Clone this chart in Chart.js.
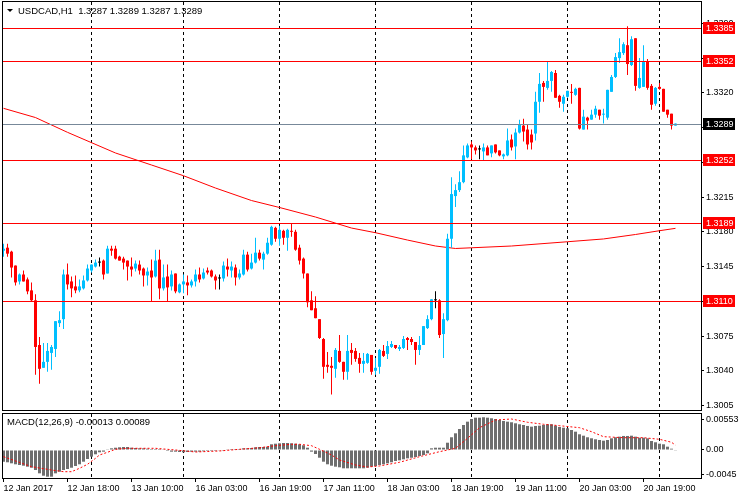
<!DOCTYPE html>
<html>
<head>
<meta charset="utf-8">
<script src="https://cdn.jsdelivr.net/npm/chart.js@4.4.1/dist/chart.umd.min.js"></script>
<style>
  html, body { margin: 0; padding: 0; background: #fff; }
  #wrap { position: relative; width: 740px; height: 500px; overflow: hidden; background: #fff; }
  canvas { position: absolute; left: 0; }
  #main { top: 0; }
  #macd { top: 412px; }
</style>
</head>
<body>
<div id="wrap">
  <canvas id="main" width="740" height="412"></canvas>
  <canvas id="macd" width="740" height="88"></canvas>
</div>
<script>
"use strict";

// USDCAD H1 candles, one per hour
const openP = [
  1.3161,1.3164,1.3160,1.3146,1.3130,1.3137,1.3132,1.3121,1.3111,1.3066,
  1.3043,1.3049,1.3058,1.3062,1.3088,1.3092,1.3137,1.3130,1.3125,1.3121,
  1.3123,1.3131,1.3141,1.3145,1.3149,1.3151,1.3138,1.3163,1.3163,1.3155,
  1.3153,1.3151,1.3145,1.3143,1.3147,1.3143,1.3136,1.3141,1.3135,1.3152,
  1.3123,1.3135,1.3125,1.3138,1.3119,1.3127,1.3129,1.3126,1.3130,1.3137,
  1.3133,1.3141,1.3141,1.3135,1.3133,1.3133,1.3145,1.3141,1.3144,1.3134,
  1.3137,1.3157,1.3143,1.3149,1.3159,1.3152,1.3158,1.3167,1.3184,1.3173,
  1.3181,1.3174,1.3181,1.3180,1.3164,1.3153,1.3138,1.3111,1.3103,1.3092,
  1.3072,1.3046,1.3045,1.3042,1.3060,1.3049,1.3039,1.3061,1.3060,1.3053,
  1.3047,1.3048,1.3056,1.3040,1.3044,1.3060,1.3057,1.3064,1.3066,1.3062,
  1.3063,1.3073,1.3072,1.3069,1.3061,1.3066,1.3083,1.3092,1.3111,1.3111,
  1.3077,1.3091,1.3173,1.3216,1.3222,1.3230,1.3255,1.3268,1.3265,1.3263,
  1.3261,1.3265,1.3259,1.3268,1.3262,1.3256,1.3257,1.3273,1.3266,1.3280,
  1.3287,1.3283,1.3278,1.3279,1.3311,1.3330,1.3325,1.3332,1.3340,1.3317,
  1.3309,1.3316,1.3321,1.3318,1.3325,1.3283,1.3295,1.3293,1.3298,1.3303,
  1.3298,1.3295,1.3321,1.3336,1.3355,1.3360,1.3368,1.3348,1.3375,1.3325,
  1.3326,1.3352,1.3327,1.3309,1.3326,1.3324,1.3303,1.3299,1.3287
];
const highP = [
  1.3168,1.3168,1.3161,1.3146,1.3138,1.3141,1.3134,1.3129,1.3117,1.3074,
  1.3068,1.3068,1.3066,1.3090,1.3100,1.3142,1.3148,1.3135,1.3136,1.3132,
  1.3136,1.3147,1.3147,1.3152,1.3154,1.3152,1.3166,1.3166,1.3166,1.3156,
  1.3155,1.3151,1.3154,1.3151,1.3151,1.3144,1.3144,1.3152,1.3162,1.3162,
  1.3147,1.3147,1.3141,1.3138,1.3128,1.3137,1.3136,1.3132,1.3142,1.3144,
  1.3143,1.3144,1.3142,1.3137,1.3137,1.3150,1.3153,1.3150,1.3147,1.3142,
  1.3162,1.3160,1.3158,1.3174,1.3162,1.3160,1.3174,1.3186,1.3185,1.3186,
  1.3182,1.3183,1.3189,1.3182,1.3167,1.3154,1.3138,1.3120,1.3115,1.3092,
  1.3073,1.3059,1.3054,1.3063,1.3076,1.3049,1.3076,1.3068,1.3063,1.3058,
  1.3058,1.3058,1.3056,1.3053,1.3062,1.3066,1.3070,1.3070,1.3066,1.3066,
  1.3075,1.3074,1.3074,1.3069,1.3075,1.3085,1.3096,1.3112,1.3120,1.3112,
  1.3098,1.3178,1.3235,1.3228,1.3241,1.3267,1.3269,1.3271,1.3267,1.3267,
  1.3269,1.3267,1.3267,1.3268,1.3262,1.3259,1.3284,1.3278,1.3284,1.3293,
  1.3294,1.3288,1.3283,1.3321,1.3340,1.3332,1.3351,1.3342,1.3343,1.3318,
  1.3318,1.3322,1.3329,1.3325,1.3325,1.3303,1.3296,1.3303,1.3307,1.3303,
  1.3304,1.3323,1.3338,1.3360,1.3375,1.3371,1.3387,1.3377,1.3375,1.3355,
  1.3368,1.3354,1.3329,1.3326,1.3330,1.3324,1.3303,1.3299,1.3289
];
const lowP = [
  1.3155,1.3155,1.3134,1.3126,1.3127,1.3130,1.3117,1.3110,1.3036,1.3027,
  1.3043,1.3039,1.3041,1.3054,1.3084,1.3082,1.3122,1.3114,1.3118,1.3119,
  1.3122,1.3130,1.3139,1.3144,1.3145,1.3132,1.3138,1.3156,1.3152,1.3151,
  1.3142,1.3131,1.3135,1.3140,1.3137,1.3125,1.3126,1.3110,1.3134,1.3112,
  1.3121,1.3110,1.3121,1.3118,1.3118,1.3118,1.3116,1.3124,1.3125,1.3129,
  1.3132,1.3137,1.3134,1.3122,1.3122,1.3130,1.3135,1.3134,1.3126,1.3132,
  1.3136,1.3140,1.3142,1.3148,1.3151,1.3142,1.3157,1.3166,1.3170,1.3166,
  1.3167,1.3161,1.3175,1.3161,1.3147,1.3133,1.3104,1.3101,1.3093,1.3072,
  1.3032,1.3038,1.3016,1.3033,1.3048,1.3031,1.3031,1.3046,1.3049,1.3038,
  1.3038,1.3047,1.3036,1.3036,1.3037,1.3054,1.3052,1.3063,1.3062,1.3060,
  1.3062,1.3061,1.3066,1.3046,1.3056,1.3066,1.3082,1.3091,1.3103,1.3073,
  1.3053,1.3090,1.3164,1.3205,1.3220,1.3229,1.3254,1.3253,1.3258,1.3253,
  1.3252,1.3257,1.3255,1.3259,1.3256,1.3253,1.3256,1.3262,1.3253,1.3279,
  1.3271,1.3263,1.3263,1.3272,1.3300,1.3311,1.3323,1.3321,1.3315,1.3305,
  1.3301,1.3315,1.3309,1.3317,1.3283,1.3283,1.3283,1.3293,1.3295,1.3293,
  1.3289,1.3293,1.3321,1.3335,1.3350,1.3358,1.3338,1.3347,1.3322,1.3324,
  1.3326,1.3323,1.3303,1.3307,1.3323,1.3301,1.3295,1.3283,1.3287
];
const closeP = [
  1.3163,1.3158,1.3144,1.3129,1.3137,1.3130,1.3120,1.3111,1.3064,1.3042,
  1.3049,1.3060,1.3064,1.3090,1.3091,1.3137,1.3127,1.3123,1.3121,1.3125,
  1.3131,1.3143,1.3147,1.3149,1.3149,1.3137,1.3163,1.3161,1.3153,1.3151,
  1.3149,1.3145,1.3142,1.3148,1.3141,1.3136,1.3140,1.3134,1.3151,1.3123,
  1.3134,1.3124,1.3137,1.3120,1.3127,1.3130,1.3126,1.3130,1.3137,1.3132,
  1.3139,1.3139,1.3135,1.3131,1.3133,1.3146,1.3142,1.3145,1.3134,1.3138,
  1.3157,1.3142,1.3149,1.3159,1.3153,1.3158,1.3169,1.3185,1.3173,1.3182,
  1.3174,1.3182,1.3180,1.3162,1.3151,1.3138,1.3109,1.3101,1.3093,1.3073,
  1.3044,1.3044,1.3043,1.3061,1.3049,1.3039,1.3060,1.3058,1.3052,1.3047,
  1.3050,1.3057,1.3039,1.3043,1.3061,1.3055,1.3065,1.3067,1.3063,1.3064,
  1.3072,1.3071,1.3069,1.3061,1.3066,1.3085,1.3092,1.3112,1.3111,1.3076,
  1.3092,1.3173,1.3218,1.3222,1.3230,1.3257,1.3267,1.3265,1.3262,1.3263,
  1.3265,1.3257,1.3267,1.3260,1.3257,1.3258,1.3272,1.3265,1.3280,1.3288,
  1.3281,1.3268,1.3270,1.3311,1.3329,1.3326,1.3332,1.3341,1.3315,1.3311,
  1.3316,1.3322,1.3320,1.3324,1.3284,1.3296,1.3292,1.3298,1.3304,1.3297,
  1.3299,1.3323,1.3336,1.3356,1.3361,1.3369,1.3349,1.3374,1.3327,1.3335,
  1.3351,1.3325,1.3308,1.3325,1.3324,1.3301,1.3298,1.3287,1.3289
];

// moving average, read at a few bars
const maIdx = [0, 8, 16, 22, 28, 37, 45, 53, 62, 69, 78, 87, 93, 101, 108, 113, 117, 127, 141, 150, 158, 164, 168];
const maVal = [1.33044, 1.32951, 1.32802, 1.32698, 1.32594, 1.32473, 1.32365, 1.32241, 1.32115, 1.32045, 1.31949, 1.31838,
  1.31791, 1.31717, 1.31657, 1.31632, 1.31639, 1.31657, 1.31700, 1.31728, 1.31773, 1.31811, 1.31835];

// MACD main (histogram), one per bar
const macdHist = [
  -0.00215,-0.00226,-0.00245,-0.00263,-0.00276,-0.00289,-0.00307,-0.00326,-0.00368,-0.00429,
  -0.00473,-0.00491,-0.00491,-0.00429,-0.00399,-0.00368,-0.00350,-0.00326,-0.00294,-0.00263,
  -0.00215,-0.00166,-0.00123,-0.00079,-0.00042,-0.00031,0.00005,0.00031,0.00042,0.00050,
  0.00055,0.00055,0.00042,0.00037,0.00031,0.00031,0.00024,0.00018,0.00018,0.00018,
  0.00013,-0.00018,-0.00031,-0.00031,-0.00037,-0.00042,-0.00037,-0.00031,-0.00031,-0.00031,
  -0.00024,-0.00018,-0.00018,-0.00018,-0.00013,-0.00002,0.00013,0.00018,0.00018,0.00018,
  0.00031,0.00031,0.00037,0.00050,0.00055,0.00055,0.00061,0.00105,0.00116,0.00123,
  0.00129,0.00129,0.00123,0.00116,0.00105,0.00086,0.00042,-0.00031,-0.00074,-0.00142,
  -0.00215,-0.00263,-0.00289,-0.00307,-0.00318,-0.00337,-0.00337,-0.00337,-0.00337,-0.00337,
  -0.00337,-0.00326,-0.00307,-0.00294,-0.00276,-0.00263,-0.00245,-0.00226,-0.00202,-0.00190,
  -0.00171,-0.00153,-0.00142,-0.00129,-0.00110,-0.00092,-0.00061,0.00031,0.00042,0.00042,
  0.00042,0.00134,0.00234,0.00307,0.00386,0.00460,0.00521,0.00570,0.00594,0.00594,
  0.00602,0.00594,0.00583,0.00570,0.00552,0.00534,0.00521,0.00510,0.00491,0.00473,
  0.00460,0.00442,0.00429,0.00442,0.00447,0.00460,0.00473,0.00473,0.00447,0.00423,
  0.00410,0.00399,0.00368,0.00337,0.00289,0.00263,0.00234,0.00215,0.00197,0.00184,
  0.00171,0.00184,0.00215,0.00234,0.00245,0.00258,0.00258,0.00263,0.00245,0.00226,
  0.00226,0.00215,0.00166,0.00142,0.00116,0.00105,0.00061,0.00024,-0.00013
];

// MACD signal, read at a few bars
const sigIdx = [0, 7, 12, 15, 17, 19, 21, 23, 24, 26, 28, 31, 38, 43, 48, 54, 59, 64, 68, 72, 74, 77, 79, 82, 84, 88, 91, 94,
  99, 104, 109, 113, 116, 119, 123, 127, 131, 135, 139, 144, 147, 150, 155, 160, 164, 167, 168];
const sigVal = [-0.00123, -0.00307, -0.00368, -0.00399, -0.00399, -0.00337, -0.00263, -0.00153, -0.00092, -0.00042,
  0.00013, 0.00031, 0.00031, 0, -0.00037, -0.00018, 0.00013, 0.00042, 0.00079, 0.00105,
  0.00105, 0.00079, 0.00013, -0.00092, -0.00184, -0.00276, -0.00313, -0.00294, -0.00226, -0.00123,
  -0.00031, 0.00031, 0.00215, 0.00410, 0.00552, 0.00570, 0.00510, 0.00473, 0.00447, 0.00410,
  0.00337, 0.00245, 0.00226, 0.00226, 0.00197, 0.00142, 0.00089];

const levels = [1.3385, 1.3352, 1.3252, 1.3189, 1.3110];
const bidPrice = 1.3289;
const priceTicks = [1.3390, 1.3355, 1.3320, 1.3285, 1.3250, 1.3215, 1.3180, 1.3145, 1.3110, 1.3075, 1.3040, 1.3005];
const macdTicks = [0.00553, 0, -0.0045];
const macdTickLabels = ['0.00553', '0.00', '-0.0045'];
const dayLines = [22, 45, 69, 93, 117, 141, 164];
const timeIdx = [0, 16, 32, 48, 64, 80, 96, 112, 128, 144, 160];
const timeLabels = ['12 Jan 2017', '12 Jan 18:00', '13 Jan 10:00', '16 Jan 03:00', '16 Jan 19:00', '17 Jan 11:00',
  '18 Jan 03:00', '18 Jan 19:00', '19 Jan 11:00', '20 Jan 03:00', '20 Jan 19:00'];
const titleText = 'USDCAD,H1  1.3287 1.3289 1.3287 1.3289';
const macdText = 'MACD(12,26,9) -0.00013 0.00089';

const BULL = '#00BFFF';
const BEAR = '#FF0000';
const FONT = "'Liberation Sans', Arial, sans-serif";

Chart.defaults.animation = false;
Chart.defaults.color = '#000';
Chart.defaults.font.family = FONT;
Chart.defaults.font.size = 9;
Chart.defaults.plugins.legend.display = false;
Chart.defaults.plugins.tooltip.enabled = false;

const candleColor = openP.map((o, i) => closeP[i] > o ? BULL : (closeP[i] < o ? BEAR : '#000'));

const xRange = { min: -0.125, max: 174.375 };

function fixWidth(scale) {
	scale.width = 39
	scale.paddingTop = 0
	scale.paddingBottom = 0
}

function drawDayLines(chart) {
	const { ctx, chartArea } = chart
	const xs = chart.scales.x
	ctx.save()
	ctx.strokeStyle = '#000'
	ctx.lineWidth = 1
	ctx.setLineDash([3, 3])
	dayLines.forEach((d) => {
		const x = Math.floor(xs.getPixelForValue(d)) + 0.5
		ctx.beginPath()
		ctx.moveTo(x, chartArea.top)
		ctx.lineTo(x, chartArea.bottom)
		ctx.stroke()
	})
	ctx.restore()
}

function drawFrame(chart) {
	const { ctx, chartArea } = chart
	ctx.save()
	ctx.setLineDash([])
	ctx.strokeStyle = '#000'
	ctx.lineWidth = 1
	ctx.strokeRect(chartArea.left - 0.5, chartArea.top - 0.5, chartArea.right - chartArea.left + 1, chartArea.bottom - chartArea.top + 1)
	ctx.restore()
}

function priceBox(ctx, y, text, bg) {
	ctx.fillStyle = bg
	ctx.fillRect(703, y - 6, 32, 12)
	ctx.fillStyle = '#fff'
	ctx.font = '9px ' + FONT
	ctx.textAlign = 'left'
	ctx.textBaseline = 'middle'
	ctx.fillText(text, 706, y + 0.5)
}

const mainDecor = {
	id: 'mainDecor',
	beforeDatasetsDraw(chart) {
		drawDayLines(chart)
	},
	afterDatasetsDraw(chart) {
		const { ctx, chartArea } = chart
		const ys = chart.scales.y
		ctx.save()
		ctx.lineWidth = 1
		// horizontal levels
		levels.forEach((lv) => {
			const y = Math.round(ys.getPixelForValue(lv)) + 0.5
			ctx.strokeStyle = '#FF0000'
			ctx.beginPath()
			ctx.moveTo(chartArea.left, y)
			ctx.lineTo(chartArea.right, y)
			ctx.stroke()
		})
		const by = Math.round(ys.getPixelForValue(bidPrice)) + 0.5
		ctx.strokeStyle = '#778899'
		ctx.beginPath()
		ctx.moveTo(chartArea.left, by)
		ctx.lineTo(chartArea.right, by)
		ctx.stroke()
		// boxes on the price axis
		levels.forEach((lv) => {
			priceBox(ctx, Math.round(ys.getPixelForValue(lv)), lv.toFixed(4), '#FF0000')
		})
		priceBox(ctx, Math.round(ys.getPixelForValue(bidPrice)), bidPrice.toFixed(4), '#000')
		// title
		ctx.fillStyle = '#000'
		ctx.beginPath()
		ctx.moveTo(7, 9)
		ctx.lineTo(13, 9)
		ctx.lineTo(10, 12)
		ctx.closePath()
		ctx.fill()
		ctx.font = '9.5px ' + FONT
		ctx.textAlign = 'left'
		ctx.textBaseline = 'middle'
		ctx.fillText(titleText, 18, 11)
		ctx.restore()
		drawFrame(chart)
	}
}

const macdDecor = {
	id: 'macdDecor',
	beforeDatasetsDraw(chart) {
		drawDayLines(chart)
	},
	afterDatasetsDraw(chart) {
		const { ctx } = chart
		ctx.save()
		ctx.fillStyle = '#000'
		ctx.font = '9.5px ' + FONT
		ctx.textAlign = 'left'
		ctx.textBaseline = 'middle'
		ctx.fillText(macdText, 7, 10)
		ctx.restore()
		drawFrame(chart)
	}
}

new Chart(document.getElementById('main'), {
	type: 'bar',
	data: {
		datasets: [
			{
				type: 'line',
				data: maIdx.map((x, k) => ({ x: x, y: maVal[k] })),
				borderColor: '#FF0000',
				borderWidth: 1,
				pointRadius: 0,
				tension: 0,
				order: 3
			},
			{
				data: openP.map((o, i) => ({ x: i, y: [lowP[i], highP[i]] })),
				backgroundColor: candleColor,
				barThickness: 1,
				grouped: false,
				inflateAmount: 0,
				order: 2
			},
			{
				data: openP.map((o, i) => ({ x: i, y: [o, closeP[i]] })),
				backgroundColor: candleColor,
				barThickness: 3,
				minBarLength: 1,
				grouped: false,
				inflateAmount: 0,
				order: 1
			}
		]
	},
	options: {
		responsive: false,
		events: [],
		layout: { padding: { left: 3, top: 2, right: 0, bottom: 2 } },
		scales: {
			x: {
				type: 'linear',
				min: xRange.min,
				max: xRange.max,
				offset: false,
				display: false
			},
			y: {
				type: 'linear',
				position: 'right',
				min: 1.30005,
				max: 1.34115,
				afterBuildTicks: (s) => { s.ticks = priceTicks.map((v) => ({ value: v })) },
				afterFit: fixWidth,
				ticks: {
					callback: (v) => Number(v).toFixed(4),
					padding: 2,
					autoSkip: false,
					font: { size: 9 }
				},
				grid: { drawOnChartArea: false, drawTicks: true, tickLength: 3, color: '#000' },
				border: { display: false }
			}
		}
	},
	plugins: [mainDecor]
})

new Chart(document.getElementById('macd'), {
	type: 'bar',
	data: {
		datasets: [
			{
				type: 'line',
				data: sigIdx.map((x, k) => ({ x: x, y: sigVal[k] })),
				borderColor: '#FF0000',
				borderWidth: 1,
				borderDash: [2, 2],
				pointRadius: 0,
				tension: 0,
				order: 1
			},
			{
				data: macdHist.map((v, i) => ({ x: i, y: v })),
				backgroundColor: '#6E6E6E',
				barThickness: 3,
				grouped: false,
				inflateAmount: 0,
				order: 2
			}
		]
	},
	options: {
		responsive: false,
		events: [],
		layout: { padding: { left: 3, top: 2, right: 0, bottom: 0 } },
		scales: {
			x: {
				type: 'linear',
				position: 'bottom',
				min: xRange.min,
				max: xRange.max,
				offset: false,
				afterBuildTicks: (s) => { s.ticks = timeIdx.map((v) => ({ value: v })) },
				afterFit: (s) => { s.height = 22; s.paddingLeft = 0; s.paddingRight = 0 },
				ticks: {
					callback: (v) => timeLabels[timeIdx.indexOf(v)],
					autoSkip: false,
					maxRotation: 0,
					minRotation: 0,
					align: 'start',
					padding: 1,
					font: { size: 9 }
				},
				grid: { drawOnChartArea: false, drawTicks: true, tickLength: 4, color: '#000', offset: false },
				border: { display: false }
			},
			y: {
				type: 'linear',
				position: 'right',
				min: -0.00515,
				max: 0.00662,
				afterBuildTicks: (s) => { s.ticks = macdTicks.map((v) => ({ value: v })) },
				afterFit: fixWidth,
				ticks: {
					callback: (v) => macdTickLabels[macdTicks.indexOf(v)],
					padding: 2,
					autoSkip: false,
					font: { size: 9 }
				},
				grid: { drawOnChartArea: false, drawTicks: true, tickLength: 3, color: '#000' },
				border: { display: false }
			}
		}
	},
	plugins: [macdDecor]
})
</script>
</body>
</html>
